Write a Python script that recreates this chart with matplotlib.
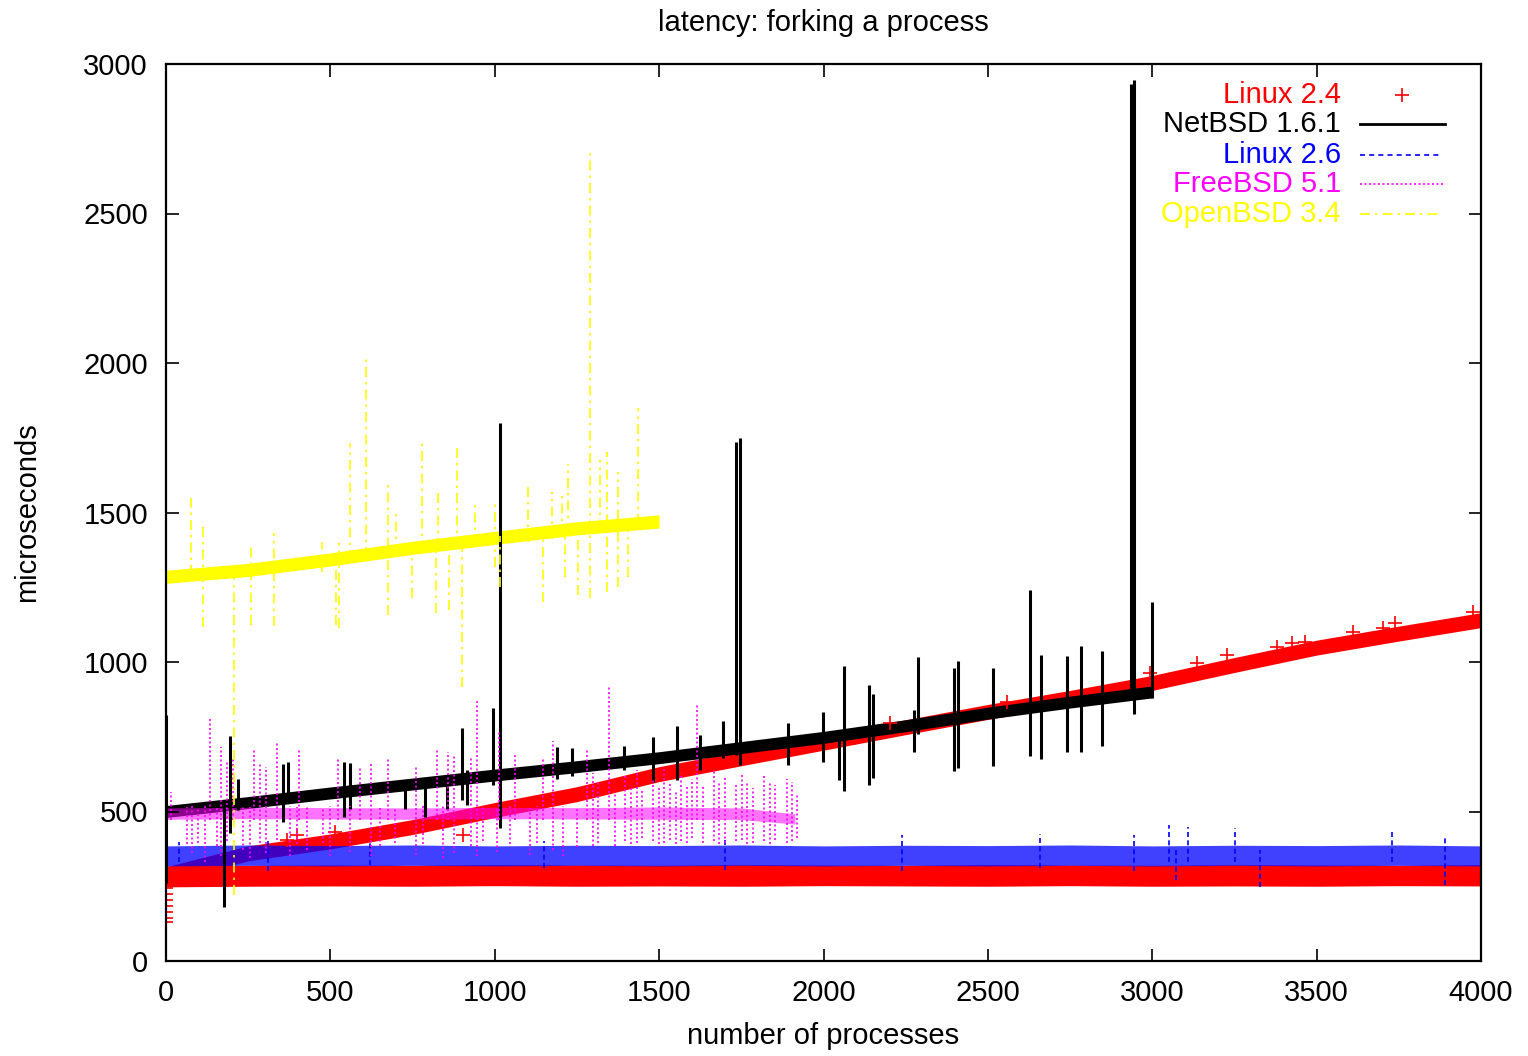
import numpy as np
import matplotlib
matplotlib.use('Agg')
import matplotlib.pyplot as plt

plt.rcParams['font.family'] = ['Liberation Sans', 'DejaVu Sans']

proc = [0, 250, 500, 750, 1000, 1250, 1500, 1750, 2000, 2250, 2500, 2750, 3000, 3250, 3500, 3750, 4000]

# Linux 2.4: flat band and rising band (lower / upper edge of the + cloud)
l24_flat_lo = [248, 250, 251, 250, 252, 250, 251, 250, 252, 251, 250, 252, 250, 251, 250, 252, 251]
l24_flat_hi = [318, 320, 321, 320, 322, 321, 320, 322, 321, 320, 322, 321, 320, 322, 321, 320, 322]
l24_rise_lo = [265, 335, 375, 423, 480, 533, 600, 653, 705, 757, 808, 855, 905, 965, 1023, 1070, 1115]
l24_rise_hi = [315, 385, 425, 473, 530, 583, 650, 703, 755, 807, 858, 905, 955, 1015, 1073, 1120, 1165]
l24_out_x = [0, 0, 0, 0, 0, 0, 0, 0, 367, 398, 514, 904, 2202, 2557, 2993, 3136, 3227,
             3379, 3425, 3465, 3611, 3702, 3739, 3976]
l24_out_y = [270, 245, 225, 205, 185, 165, 145, 130, 405, 421, 432, 421, 796, 866, 963, 997, 1023,
             1050, 1063, 1068, 1100, 1114, 1130, 1167]

# NetBSD 1.6.1
net_x = [0, 250, 500, 750, 1000, 1250, 1500, 1750, 2000, 2250, 2500, 2750, 3000]
net_lo = [480, 510, 542, 572, 602, 630, 660, 694, 728, 767, 809, 846, 880]
net_hi = [520, 550, 582, 612, 642, 670, 700, 734, 768, 807, 849, 886, 920]
net_spk_x = [0, 176, 195, 218, 355, 371, 541, 560, 727, 788, 855, 901, 916, 995, 1016, 1189, 1234,
             1393, 1482, 1554, 1624, 1694, 1734, 1746, 1892, 1998, 2048, 2062, 2138, 2151, 2275,
             2288, 2397, 2409, 2515, 2628, 2661, 2740, 2783, 2847, 2935, 2945, 3000]
net_spk_lo = [261, 180, 428, 505, 465, 540, 482, 507, 509, 482, 509, 540, 522, 590, 445, 610, 620,
              640, 599, 605, 639, 680, 690, 656, 656, 666, 605, 569, 589, 612, 699,
              760, 636, 646, 652, 686, 676, 699, 699, 719, 880, 826, 880]
net_spk_hi = [823, 520, 752, 610, 659, 664, 664, 662, 590, 600, 620, 779, 640, 846, 1800, 716, 713,
              719, 749, 786, 756, 803, 1736, 1749, 796, 833, 760, 987, 923, 893, 839,
              1017, 980, 1003, 980, 1241, 1023, 1020, 1054, 1037, 2933, 2946, 1201]

# Linux 2.6
l26_lo = [318, 320, 318, 320, 318, 320, 318, 320, 318, 320, 318, 320, 318, 320, 318, 320, 318]
l26_hi = [385, 388, 386, 388, 385, 387, 386, 388, 385, 387, 386, 388, 385, 387, 386, 388, 385]
l26_spk_x = [40, 310, 620, 1150, 1700, 2240, 2660, 2945, 3051, 3072, 3110, 3252, 3328, 3729, 3890]
l26_spk_lo = [330, 300, 320, 310, 305, 300, 310, 300, 330, 271, 330, 330, 247, 330, 254]
l26_spk_hi = [398, 410, 405, 400, 415, 420, 425, 421, 455, 380, 448, 445, 370, 435, 411]

# FreeBSD 5.1
fbsd_x = [0, 250, 500, 750, 1000, 1250, 1500, 1750, 1913]
fbsd_lo = [474, 476, 475, 474, 476, 475, 474, 473, 458]
fbsd_hi = [512, 514, 513, 512, 514, 513, 515, 512, 492]
fbsd_spk_x = [15, 63, 78, 98, 119, 134, 154, 167, 185, 203, 235, 256, 268, 286, 304, 337, 377, 398,
              405, 428, 479, 499, 523, 560, 590, 623, 651, 675, 697, 760, 783, 825, 844, 858, 876,
              927, 945, 965, 1006, 1013, 1046, 1062, 1107, 1128, 1147, 1178, 1209, 1249, 1281, 1298,
              1315, 1348, 1366, 1396, 1413, 1432, 1449, 1482, 1500, 1515, 1533, 1550, 1567, 1584,
              1599, 1616, 1633, 1667, 1683, 1700, 1734, 1751, 1768, 1785, 1819, 1837, 1852, 1888,
              1903, 1918]
fbsd_spk_lo = [470, 390, 360, 395, 330, 470, 385, 350, 400, 470, 370, 345, 470, 395, 360, 405, 350, 390,
               470, 370, 395, 350, 470, 365, 470, 350, 385, 470, 395, 355, 390, 470, 345, 470, 360,
               385, 350, 400, 365, 470, 390, 470, 355, 395, 470, 370, 350, 380, 470, 385,
               395, 470, 385, 400, 390, 395, 410, 400, 390, 395, 405, 390, 400, 395,
               410, 470, 395, 400, 390, 395, 400, 405, 390, 395, 400, 390, 405, 395,
               400, 410]
fbsd_spk_hi = [565, 515, 520, 515, 520, 816, 515, 716, 672, 679, 520, 515, 712, 662, 650, 729, 520, 515,
               709, 520, 515, 520, 679, 520, 645, 665, 520, 679, 515, 649, 520, 709, 520, 700, 690,
               682, 870, 520, 515, 766, 520, 690, 515, 520, 680, 736, 520, 515, 712, 629,
               600, 916, 560, 620, 590, 640, 575, 610, 580, 650, 600, 570, 630, 590,
               610, 863, 585, 640, 600, 620, 590, 630, 600, 580, 620, 600, 590, 610,
               600, 560]

# OpenBSD 3.4
obsd_x = [0, 250, 500, 750, 1000, 1250, 1500]
obsd_lo = [1263, 1286, 1321, 1360, 1393, 1425, 1448]
obsd_hi = [1307, 1330, 1365, 1404, 1437, 1469, 1492]
obsd_spk_x = [76, 114, 207, 259, 330, 476, 516, 526, 560, 608, 676, 699, 747, 780, 820, 826, 862,
              884, 899, 940, 1001, 1016, 1100, 1146, 1173, 1205, 1214, 1224, 1254, 1290, 1320,
              1340, 1376, 1405, 1437]
obsd_spk_lo = [1290, 1117, 221, 1124, 1120, 1300, 1124, 1114, 1340, 1350, 1157, 1360, 1214, 1370, 1164,
               1380, 1174, 1380, 916, 1390, 1318, 1251, 1400, 1201, 1410, 1420, 1284, 1430, 1224,
               1214, 1440, 1234, 1250, 1284, 1460]
obsd_spk_hi = [1548, 1458, 1290, 1398, 1431, 1400, 1360, 1415, 1733, 2027, 1605, 1498, 1380, 1733, 1390,
               1575, 1400, 1733, 1390, 1542, 1542, 1420, 1600, 1420, 1570, 1565, 1440, 1662, 1450,
               2706, 1675, 1703, 1636, 1460, 1850]

series_names = ['Linux 2.4', 'NetBSD 1.6.1', 'Linux 2.6', 'FreeBSD 5.1', 'OpenBSD 3.4']
series_colors = ['#ff0000', '#000000', '#0000ff', '#ff00ff', '#ffff00']

fig = plt.figure(figsize=(15.28, 10.56), dpi=100)
ax = fig.add_axes([166 / 1528, 1 - 961 / 1056, 1315 / 1528, 897 / 1056])

red, black, blue, magenta, yellow = series_colors

# Linux 2.4
ax.fill_between(proc, l24_flat_lo, l24_flat_hi, color=red, lw=0)
ax.fill_between(proc, l24_rise_lo, l24_rise_hi, color=red, lw=0)
ax.plot(l24_out_x, l24_out_y, '+', color=red, ms=10, mew=1.2, ls='none')

# NetBSD 1.6.1
ax.fill_between(net_x, net_lo, net_hi, color=black, lw=0)
ax.vlines(net_spk_x, net_spk_lo, net_spk_hi, color=black, lw=2.2)

# Linux 2.6
ax.fill_between(proc, l26_lo, l26_hi, color=blue, lw=0, alpha=0.75)
ax.vlines(l26_spk_x, l26_spk_lo, l26_spk_hi, color=blue, lw=1.2, linestyles=(0, (3, 2)))

# FreeBSD 5.1
ax.fill_between(fbsd_x, fbsd_lo, fbsd_hi, color=magenta, lw=0, alpha=0.55)
ax.vlines(fbsd_spk_x, fbsd_spk_lo, fbsd_spk_hi, color=magenta, lw=1.2, linestyles=(0, (1.2, 1.5)))

# OpenBSD 3.4
ax.fill_between(obsd_x, obsd_lo, obsd_hi, color=yellow, lw=0)
ax.vlines(obsd_spk_x, obsd_spk_lo, obsd_spk_hi, color=yellow, lw=1.2,
          linestyles=(0, (6, 3, 1.5, 3)))

ax.set_xlim(0, 4000)
ax.set_ylim(0, 3000)
ax.set_xticks(np.arange(0, 4001, 500))
ax.set_yticks(np.arange(0, 3001, 500))
ax.tick_params(direction='in', length=9, width=1.2, labelsize=21, pad=13,
               top=True, right=True, colors='black')
for s in ax.spines.values():
    s.set_linewidth(1.6)

ax.set_title('latency: forking a process', fontsize=21, pad=24)
ax.set_xlabel('number of processes', fontsize=21, labelpad=11)
ax.set_ylabel('microseconds', fontsize=21, labelpad=30)

# gnuplot style key: right aligned coloured text with sample to the right
rows_y = [0.9655, 0.9331, 0.8986, 0.8663, 0.8328]
for name, col, ry in zip(series_names, series_colors, rows_y):
    ax.text(0.8935, ry, name, color=col, fontsize=21, ha='right', va='center',
            transform=ax.transAxes)
ax.plot([0.9399], [rows_y[0]], '+', color=red, ms=10, mew=1.2, transform=ax.transAxes)
ax.plot([0.908, 0.9726], [rows_y[1]] * 2, color=black, lw=2, transform=ax.transAxes)
ax.plot([0.908, 0.9696], [rows_y[2]] * 2, color=blue, lw=1.2, ls=(0, (3, 2.5)),
        transform=ax.transAxes)
ax.plot([0.908, 0.9716], [rows_y[3]] * 2, color=magenta, lw=1.2, ls=(0, (1.2, 1.5)),
        transform=ax.transAxes)
ax.plot([0.908, 0.9696], [rows_y[4]] * 2, color=yellow, lw=1.2, ls=(0, (6, 3, 1.5, 3)),
        transform=ax.transAxes)

fig.savefig('out.png', dpi=100)
